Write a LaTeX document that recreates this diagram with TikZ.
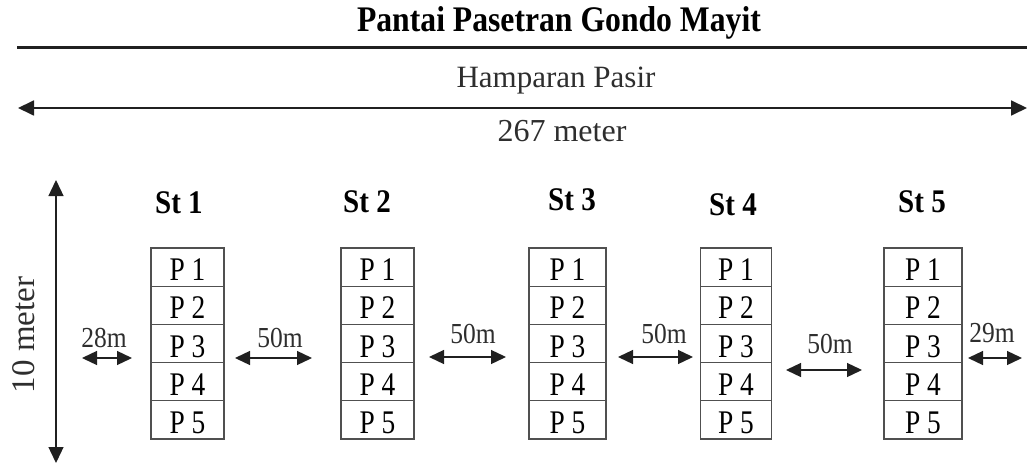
\documentclass[tikz,border=0pt]{standalone}
\usepackage{fontspec}
\setmainfont{Liberation Serif}
\newfontfamily\narrowserif[FakeStretch=0.88]{Liberation Serif}
\newfontfamily\plotserif[FakeStretch=0.83]{Liberation Serif}
\usetikzlibrary{arrows.meta}
\definecolor{txtgray}{HTML}{2E2E2E}
\definecolor{boxgray}{HTML}{505050}
\definecolor{linegray}{HTML}{202020}

\begin{document}
\begin{tikzpicture}[x=1pt,y=-1pt,
  heading/.style={anchor=base, inner sep=0pt, font=\narrowserif\bfseries\fontsize{36}{40}\selectfont},
  caption/.style={anchor=base, inner sep=0pt, text=txtgray, font=\fontsize{31}{36}\selectfont},
  stlabel/.style={anchor=base, inner sep=0pt, font=\narrowserif\bfseries\fontsize{33}{38}\selectfont},
  cell/.style={draw=boxgray, line width=1.1pt, inner sep=0pt, minimum height=38.2pt,
    text height=27pt, text depth=0pt, font=\plotserif\fontsize{33}{38}\selectfont},
  distlabel/.style={anchor=base, inner sep=0pt, text=txtgray, font=\narrowserif\fontsize{29}{34}\selectfont},
  bigarrow/.style={draw=linegray, line width=1.8pt, {Triangle[length=16pt,width=15pt]}-{Triangle[length=16pt,width=15pt]}},
  vertarrow/.style={draw=linegray, line width=1.3pt, {Triangle[length=16pt,width=15pt]}-{Triangle[length=16pt,width=15pt]}},
  distarrow/.style={draw=linegray, line width=1.3pt, {Triangle[length=15pt,width=14pt]}-{Triangle[length=15pt,width=14pt]}}
]
\useasboundingbox (0,0) rectangle (1027,465);

% title and shoreline
\node[heading] (title) at (559,32) {Pantai Pasetran Gondo Mayit};
\coordinate (shoreL) at (17,48);
\coordinate (shoreR) at (1027,48);
\draw[linegray, line width=3pt] (shoreL) -- (shoreR);

% beach width
\node[caption] (sand) at (556,88) {Hamparan Pasir};
\coordinate (widthL) at (18,108);
\coordinate (widthR) at (1027,108);
\draw[bigarrow] (widthL) -- (widthR);
\node[caption, font=\fontsize{32}{36}\selectfont] (length) at (562,142) {267 meter};

% beach depth
\coordinate (depthT) at (56,180);
\coordinate (depthB) at (56,463);
\draw[vertarrow] (depthT) -- (depthB);
\node[rotate=90, inner sep=0pt, text=txtgray, font=\fontsize{33}{38}\selectfont] (depth) at (24,335) {10 meter};

% stations with five plots each
\foreach \i/\cx/\w/\lx/\ly in {1/187.5/73/179/213, 2/377.5/73/367/212, 3/567.5/77/572/210, 4/736/71/733/215, 5/923/78/922/212}{
  \node[stlabel] (st\i) at (\lx,\ly) {St \i};
  \foreach \j in {1,...,5}{
    \node[cell, minimum width=\w pt] (s\i p\j) at (\cx,{248+(\j-0.5)*38.2}) {P \j};
  }
}

% spacing between stations
\foreach \n/\xa/\xb/\ya/\lx/\ly/\t in {
  a/82/132/358/104/347/28m,
  b/235/312/358/280/347/50m,
  c/429/506/357/473/343/50m,
  d/618/693/357/664/343/50m,
  e/786/862/370/830/353/50m,
  f/968/1022/358/992/342/29m}{
  \coordinate (gap\n L) at (\xa,\ya);
  \coordinate (gap\n R) at (\xb,\ya);
  \draw[distarrow] (gap\n L) -- (gap\n R);
  \node[distlabel] (gap\n) at (\lx,\ly) {\t};
}
\end{tikzpicture}
\end{document}
